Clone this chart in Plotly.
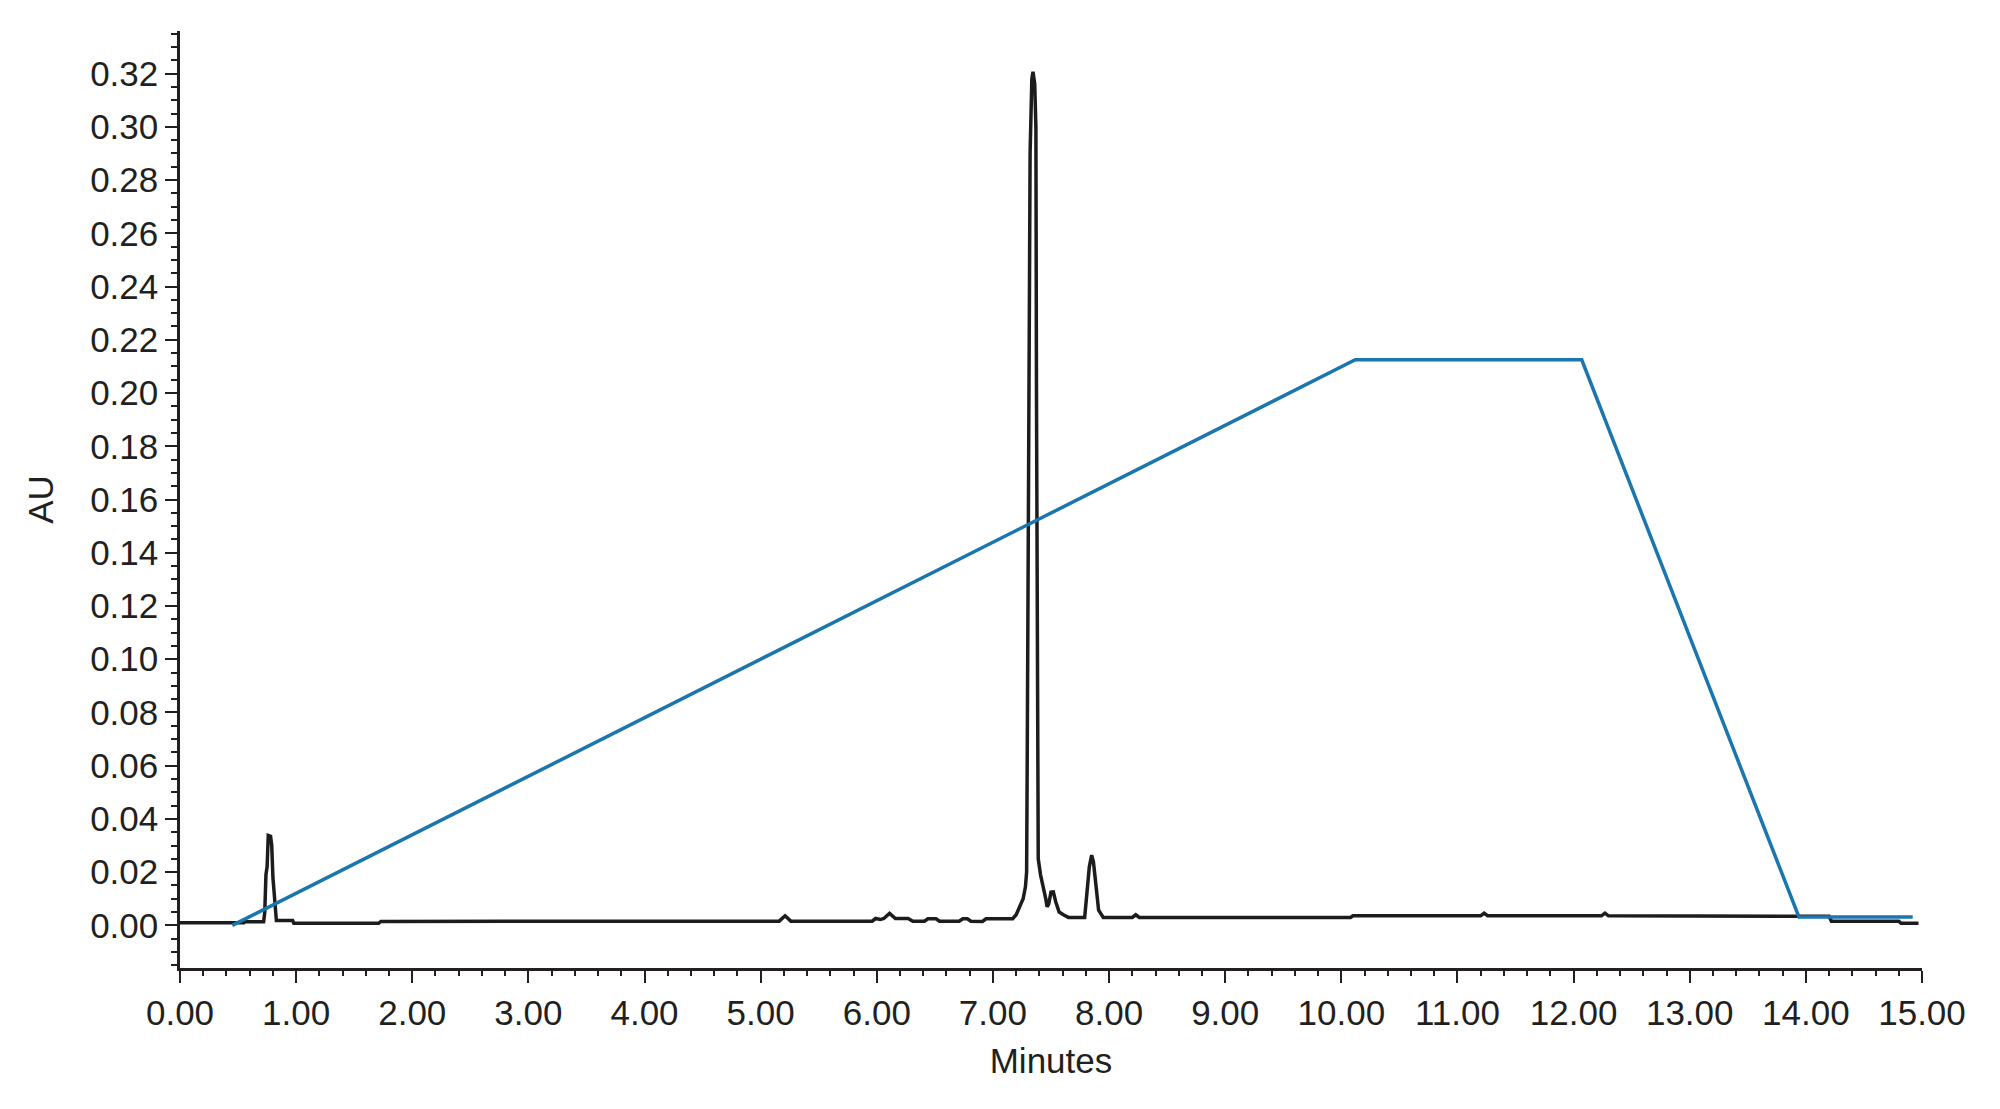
import plotly.graph_objects as go

# Chromatogram (black trace): retention time (min) and absorbance (AU)
chrom_time = [
    0.00, 0.55, 0.56, 0.72, 0.73, 0.74, 0.75, 0.76, 0.78, 0.79, 0.80, 0.82, 0.83,
    0.97, 0.98, 1.71, 1.73, 5.16, 5.21, 5.26, 5.96, 5.99, 6.03, 6.06, 6.11, 6.16,
    6.27, 6.31, 6.41, 6.44, 6.51, 6.54, 6.71, 6.74, 6.78, 6.81, 6.91, 6.94,
    7.17, 7.20, 7.22, 7.24, 7.26, 7.28, 7.29, 7.295, 7.31, 7.32, 7.335, 7.345,
    7.36, 7.37, 7.375, 7.385, 7.39, 7.41, 7.435, 7.455, 7.466, 7.48, 7.50, 7.52,
    7.54, 7.57, 7.61, 7.65, 7.79, 7.81, 7.83, 7.85, 7.865, 7.88, 7.895, 7.91,
    7.95, 8.20, 8.23, 8.26, 10.08, 10.10, 11.20, 11.23, 11.26, 12.24, 12.27,
    12.30, 14.20, 14.22, 14.80, 14.82, 14.97,
]
chrom_au = [
    0.0010, 0.0010, 0.0014, 0.0014, 0.0050, 0.0190, 0.0220, 0.0338, 0.0335, 0.0300, 0.0180, 0.0040, 0.0018,
    0.0018, 0.0008, 0.0008, 0.0015, 0.0016, 0.0036, 0.0016, 0.0016, 0.0026, 0.0022, 0.0026, 0.0045, 0.0026,
    0.0026, 0.0016, 0.0016, 0.0025, 0.0025, 0.0016, 0.0016, 0.0025, 0.0025, 0.0016, 0.0015, 0.0025,
    0.0025, 0.0040, 0.0060, 0.0076, 0.0100, 0.0145, 0.0200, 0.0600, 0.2200, 0.2900, 0.3180, 0.3207,
    0.3160, 0.3000, 0.2000, 0.0600, 0.0250, 0.0190, 0.0145, 0.0100, 0.0070, 0.0080, 0.0125, 0.0126,
    0.0090, 0.0050, 0.0039, 0.0030, 0.0030, 0.0145, 0.0220, 0.0264, 0.0240, 0.0180, 0.0100, 0.0057,
    0.0030, 0.0030, 0.0040, 0.0030, 0.0030, 0.0036, 0.0036, 0.0046, 0.0036, 0.0036, 0.0046,
    0.0036, 0.0034, 0.0016, 0.0016, 0.0008, 0.0008,
]

# Gradient profile (blue trace)
grad_time = [0.45, 10.12, 12.07, 13.94, 14.92]
grad_au = [0.0, 0.2125, 0.2125, 0.0032, 0.0032]

x_tick_vals = [i for i in range(16)]
x_tick_text = [f"{v:.2f}" for v in x_tick_vals]
y_tick_vals = [i * 0.02 for i in range(17)]
y_tick_text = [f"{v:.2f}" for v in y_tick_vals]

ink = "#231f20"
font_family = "Liberation Sans, Arial, sans-serif"

fig = go.Figure()
fig.add_trace(go.Scatter(x=chrom_time, y=chrom_au, mode="lines",
                         line=dict(color="#1c1c1c", width=3.5), showlegend=False))
fig.add_trace(go.Scatter(x=grad_time, y=grad_au, mode="lines",
                         line=dict(color="#1a76ad", width=3.5), showlegend=False))

fig.update_layout(
    width=2000, height=1109,
    margin=dict(l=180, r=78, t=31, b=141),
    paper_bgcolor="white", plot_bgcolor="white",
    font=dict(family=font_family, size=35, color=ink),
    showlegend=False,
)
fig.update_xaxes(
    range=[0, 15], tickvals=x_tick_vals, ticktext=x_tick_text,
    showgrid=False, zeroline=False, showline=True, linecolor=ink, linewidth=2.5,
    ticks="outside", ticklen=12, tickwidth=2, tickcolor=ink,
    minor=dict(ticks="outside", ticklen=5, tickwidth=2, tickcolor=ink, dtick=0.2, tick0=0, showgrid=False),
    title=dict(text="Minutes", standoff=18, font=dict(size=35)),
    automargin=False,
)
fig.update_yaxes(
    range=[-0.016, 0.336], tickvals=y_tick_vals, ticktext=y_tick_text,
    showgrid=False, zeroline=False, showline=True, linecolor=ink, linewidth=2.5,
    ticks="outside", ticklen=12, tickwidth=2, tickcolor=ink,
    minor=dict(ticks="outside", ticklen=6, tickwidth=2, tickcolor=ink, dtick=0.005, tick0=0, showgrid=False),
    title=dict(text="AU", standoff=26, font=dict(size=35)),
    automargin=False,
)

fig.write_html("out.html")
